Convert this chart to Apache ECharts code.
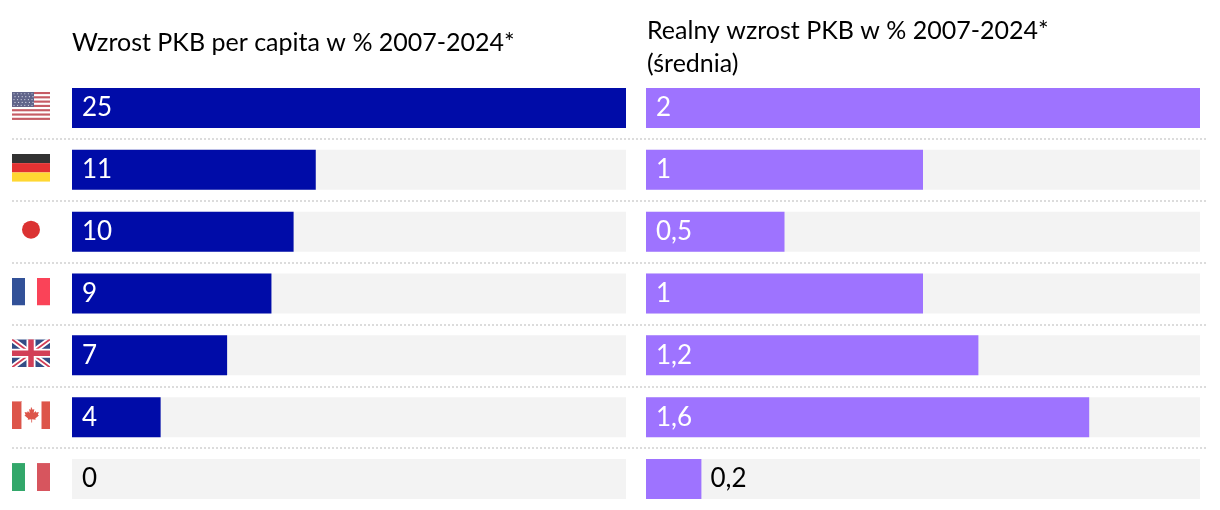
<!DOCTYPE html>
<html><head><meta charset="utf-8">
<style>html,body{margin:0;padding:0;background:#fff}#c{width:1220px;height:510px}</style>
<script src="https://cdn.jsdelivr.net/npm/echarts@6/dist/echarts.min.js"></script>
</head><body><div id="c"></div>
<script>
const countries = ['USA','Niemcy','Japonia','Francja','Wielka Brytania','Kanada','Włochy'];
const gdpPerCapita = [25,11,10,9,7,4,0];
const realGrowth = [2,1,0.5,1,1.2,1.6,0.2];
const titleLeft = 'Wzrost PKB per capita w % 2007-2024*';
const titleRight = 'Realny wzrost PKB w % 2007-2024*\n(średnia)';

function svg(body){
  return 'image://data:image/svg+xml;charset=utf-8,' + encodeURIComponent(
    '<svg xmlns="http://www.w3.org/2000/svg" width="38" height="28" viewBox="0 0 38 28">'+body+'</svg>');
}
function usFlag(){
  let s='<rect width="38" height="28" fill="#fff"/>';
  for(let i=0;i<13;i+=2) s+='<rect y="'+(i*28/13)+'" width="38" height="'+(28/13)+'" fill="#b8343f"/>';
  s+='<rect width="22" height="15" fill="#3a3f6e"/>';
  for(let r=0;r<5;r++)for(let c=0;c<6;c++) s+='<circle cx="'+(2+c*3.6+(r%2)*1)+'" cy="'+(1.8+r*2.9)+'" r="0.6" fill="#cfd2e2"/>';
  return svg(s);
}
const flags = [
  usFlag(),
  svg('<rect width="38" height="9.33" fill="#000"/><rect y="9.33" width="38" height="9.33" fill="#dd0000"/><rect y="18.67" width="38" height="9.33" fill="#ffce00"/>'),
  svg('<circle cx="19" cy="14" r="9" fill="#d30000"/>'),
  svg('<rect width="13" height="28" fill="#00267f"/><rect x="25" width="13" height="28" fill="#f9152f"/>'),
  svg('<rect width="38" height="28" fill="#012169"/><path d="M0 0L38 28M38 0L0 28" stroke="#fff" stroke-width="5.5"/><path d="M0 0L38 28M38 0L0 28" stroke="#c8102e" stroke-width="1.8"/><path d="M19 0V28M0 14H38" stroke="#fff" stroke-width="9"/><path d="M19 0V28M0 14H38" stroke="#c8102e" stroke-width="5.5"/>'),
  svg('<rect width="10" height="28" x="0" fill="#d52b1e"/><rect x="29.5" width="8.5" height="28" fill="#d52b1e"/><rect x="9" width="1" height="28" fill="#e8a09a"/><path d="M19 5.5l1.7 3 1.6-.8-.6 4 1.9-1.8.5 1.3 2.7-.4-.9 2.8 1 .6-3.6 3 .4 1.3-3.6-.5v3.3h-.8v-3.3l-3.6.5.4-1.3-3.6-3 1-.6-.9-2.8 2.7.4.5-1.3 1.9 1.8-.6-4 1.6.8z" fill="#d52b1e"/>'),
  svg('<rect width="13" height="28" fill="#009246"/><rect x="25" width="13" height="28" fill="#ce2b37"/>')
];

const FONT='Lato, Carlito, "Open Sans", sans-serif';
const hiddenX = (idx,max)=>({type:'value',gridIndex:idx,min:0,max:max,show:false});
const hiddenY = (idx)=>({type:'category',gridIndex:idx,data:countries,inverse:true,show:false});
function barSeries(idx, values, color, max){
  return {
    type:'bar',xAxisIndex:idx,yAxisIndex:idx,barWidth:40,silent:true,animation:false,
    showBackground:true,backgroundStyle:{color:'#f3f3f3'},
    itemStyle:{color:color},
    data:values.map(v=>{
      const outside = v/max < 0.02;
      const after = !outside && v/max < 0.12;
      return {value:v,label:{
        show:true,
        position: after ? 'right' : 'insideLeft',
        distance: after ? 9 : 10,
        color: (outside||after) ? '#000' : '#fff',
        fontFamily:FONT,fontSize:26,
        formatter:()=>String(v).replace('.',',')
      }};
    })
  };
}
const gridTop=77, gridH=434;
const grids=[
  {left:12,width:1196,top:gridTop,height:gridH},
  {left:12,width:38,top:gridTop,height:gridH},
  {left:72,width:554,top:gridTop,height:gridH},
  {left:646,width:554,top:gridTop,height:gridH}
];
const chart=echarts.init(document.getElementById('c'),null,{renderer:'canvas',width:1220,height:510});
chart.setOption({
  animation:false,
  backgroundColor:'#fff',
  title:[
    {text:titleLeft,left:72,top:30,padding:0,textStyle:{fontFamily:FONT,fontSize:25,fontWeight:'normal',color:'#000'}},
    {text:titleRight,left:647,top:14,padding:0,textStyle:{fontFamily:FONT,fontSize:25,fontWeight:'normal',color:'#000',lineHeight:33}}
  ],
  grid:grids,
  xAxis:[
    {type:'value',gridIndex:0,min:0,max:1,show:false},
    {type:'category',gridIndex:1,data:['flaga'],show:false},
    hiddenX(2,25),hiddenX(3,2)
  ],
  yAxis:[
    {type:'category',gridIndex:0,data:countries,inverse:true,
     axisLine:{show:false},axisTick:{show:false},axisLabel:{show:false},
     splitLine:{show:true,interval:0,showMinLine:false,showMaxLine:false,lineStyle:{color:'#dcdcdc',width:2,type:[2,2]}}},
    hiddenY(1),hiddenY(2),hiddenY(3)
  ],
  series:[
    {type:'scatter',xAxisIndex:1,yAxisIndex:1,silent:true,symbolSize:[38,28],symbolOffset:[0,-2],
     data:countries.map((c,i)=>({value:['flaga',c],symbol:flags[i]}))},
    barSeries(2,gdpPerCapita,'#000ca8',25),
    barSeries(3,realGrowth,'#9e73ff',2)
  ]
});
</script></body></html>
